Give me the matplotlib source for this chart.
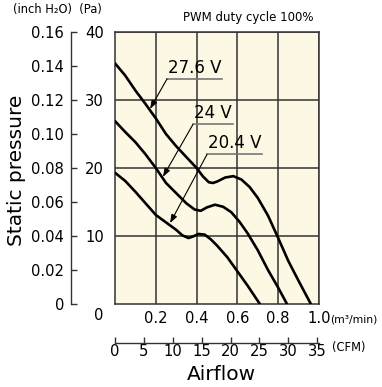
import matplotlib
matplotlib.use("Agg")
import matplotlib.pyplot as plt
from matplotlib import font_manager as fm
import numpy as np

# ---- data ----
x_276 = [0, 0.05, 0.1, 0.15, 0.2, 0.25, 0.3, 0.35, 0.4, 0.43, 0.46, 0.48, 0.5, 0.54, 0.58,
         0.62, 0.66, 0.7, 0.75, 0.8, 0.85, 0.9, 0.96]
y_276 = [35.4, 33.6, 31.4, 29.4, 27.3, 25.0, 23.2, 21.6, 20.0, 18.8, 17.9, 17.8, 18.0, 18.6, 18.8,
         18.3, 17.2, 15.6, 13.0, 9.7, 6.3, 3.4, 0.0]

x_24 = [0, 0.05, 0.1, 0.15, 0.2, 0.25, 0.3, 0.35, 0.39, 0.42, 0.45, 0.49, 0.53, 0.57, 0.61,
        0.65, 0.7, 0.75, 0.8, 0.843]
y_24 = [26.9, 25.3, 23.8, 22.0, 20.0, 17.8, 16.3, 14.8, 13.9, 13.7, 14.2, 14.6, 14.3, 13.5, 12.1,
        10.4, 7.9, 5.0, 2.4, 0.0]

x_204 = [0, 0.05, 0.1, 0.15, 0.2, 0.25, 0.3, 0.33, 0.36, 0.38, 0.41, 0.44, 0.47, 0.5, 0.55,
         0.6, 0.65, 0.71]
y_204 = [19.3, 18.1, 16.5, 14.8, 13.1, 12.0, 10.9, 10.1, 9.7, 9.9, 10.3, 10.2, 9.5, 8.6, 6.9,
         4.8, 2.7, 0.0]

series = [("27.6 V", x_276, y_276), ("24 V", x_24, y_24), ("20.4 V", x_204, y_204)]

x_ticks = [0.2, 0.4, 0.6, 0.8, 1.0]
x_ticklabels = ["0.2", "0.4", "0.6", "0.8", "1.0"]
pa_ticks = [10, 20, 30, 40]
inch_ticks = [0, 0.02, 0.04, 0.06, 0.08, 0.10, 0.12, 0.14, 0.16]
cfm_ticks = [0, 5, 10, 15, 20, 25, 30, 35]

# label positions: (text, underline x0, x1, y, arrow tip x, y)
labels = [("27.6 V", 0.255, 0.525, 33.1, 0.172, 28.7),
          ("24 V", 0.382, 0.578, 26.4, 0.235, 18.7),
          ("20.4 V", 0.451, 0.72, 22.0, 0.27, 11.9)]

# condensed font for tick numbers
NUMFONT = fm.FontProperties(family='DejaVu Sans', stretch='condensed', size=11.8)
SANS = ['DejaVu Sans']

W, H = 382, 387
fig = plt.figure(figsize=(W / 100, H / 100), dpi=100)
L, R, T, B = 115, 319, 32, 304
ax = fig.add_axes([L / W, (H - B) / H, (R - L) / W, (B - T) / H])
ax.set_facecolor('#fcf8e4')
ax.set_xlim(0, 1.0)
ax.set_ylim(0, 40)
gc = '#333333'
for s in ax.spines.values():
    s.set_color(gc)
    s.set_linewidth(1.1)

ax.set_xticks(x_ticks)
ax.set_xticklabels(x_ticklabels, fontproperties=NUMFONT)
ax.set_yticks(pa_ticks)
ax.set_yticklabels([str(v) for v in pa_ticks], fontproperties=NUMFONT)
ax.tick_params(axis='x', length=0, pad=5)
ax.tick_params(axis='y', length=0, pad=8)
ax.grid(True, color=gc, linewidth=1.1)
ax.set_axisbelow(True)
ax.text(-0.055, -0.6, "0", transform=ax.get_yaxis_transform(), fontproperties=NUMFONT,
        ha='right', va='top')

for name, xs, ys in series:
    ax.plot(xs, ys, color='black', linewidth=1.9, solid_capstyle='round', zorder=3)

for txt, x0, x1, yl, tx, ty in labels:
    ax.plot([x0, x1], [yl, yl], color='#777777', linewidth=1.2, zorder=4)
    ax.text(x0 + 0.003, yl + 0.35, txt, fontfamily=SANS, fontsize=12, ha='left', va='bottom', zorder=5)
    ax.annotate('', xy=(tx, ty), xytext=(x0, yl),
                arrowprops=dict(arrowstyle='-|>,head_length=0.5,head_width=0.18',
                                color='black', lw=0.8, shrinkA=0, shrinkB=0), zorder=5)

# inch H2O axis
sec = ax.secondary_yaxis((71 - L) / (R - L), functions=(lambda p: p / 250.0, lambda i: i * 250.0))
sec.set_yticks(inch_ticks)
sec.set_yticklabels(["0" if v == 0 else f"{v:.2f}" for v in inch_ticks], fontproperties=NUMFONT)
sec.tick_params(axis='y', direction='in', length=4, width=1.0, pad=5, color=gc)
sec.spines['left'].set_color(gc)
sec.spines['left'].set_linewidth(1.0)

# CFM axis
sx = ax.secondary_xaxis(-(343 - B) / (B - T), functions=(lambda m: m / 0.0283168, lambda c: c * 0.0283168))
sx.set_xticks(cfm_ticks)
sx.set_xticklabels([str(v) for v in cfm_ticks], fontproperties=NUMFONT)
sx.tick_params(axis='x', direction='in', length=4, width=1.0, pad=1, color=gc)
sx.spines['bottom'].set_color(gc)
sx.spines['bottom'].set_linewidth(1.0)

# texts
fig.text(330 / W, 1 - 319 / H, "(m³/min)", fontfamily=SANS, fontsize=7.8, ha='left', va='center')
fig.text(332 / W, 1 - 348 / H, "(CFM)", fontfamily=SANS, fontsize=8.3, ha='left', va='center')
fig.text(221 / W, 1 - 375 / H, "Airflow", fontfamily=SANS, fontsize=14.5, ha='center', va='center')
fig.text(17 / W, 1 - 170 / H, "Static pressure", fontfamily=SANS, fontsize=14.5, ha='center',
         va='center', rotation=90)
fig.text(13 / W, 1 - 10 / H, "(inch H₂O)  (Pa)", fontfamily=SANS, fontsize=8.3, ha='left', va='center')
fig.text(183 / W, 1 - 17 / H, "PWM duty cycle 100%", fontfamily=SANS, fontsize=8.5, ha='left', va='center')

fig.savefig("out.png", dpi=100)
